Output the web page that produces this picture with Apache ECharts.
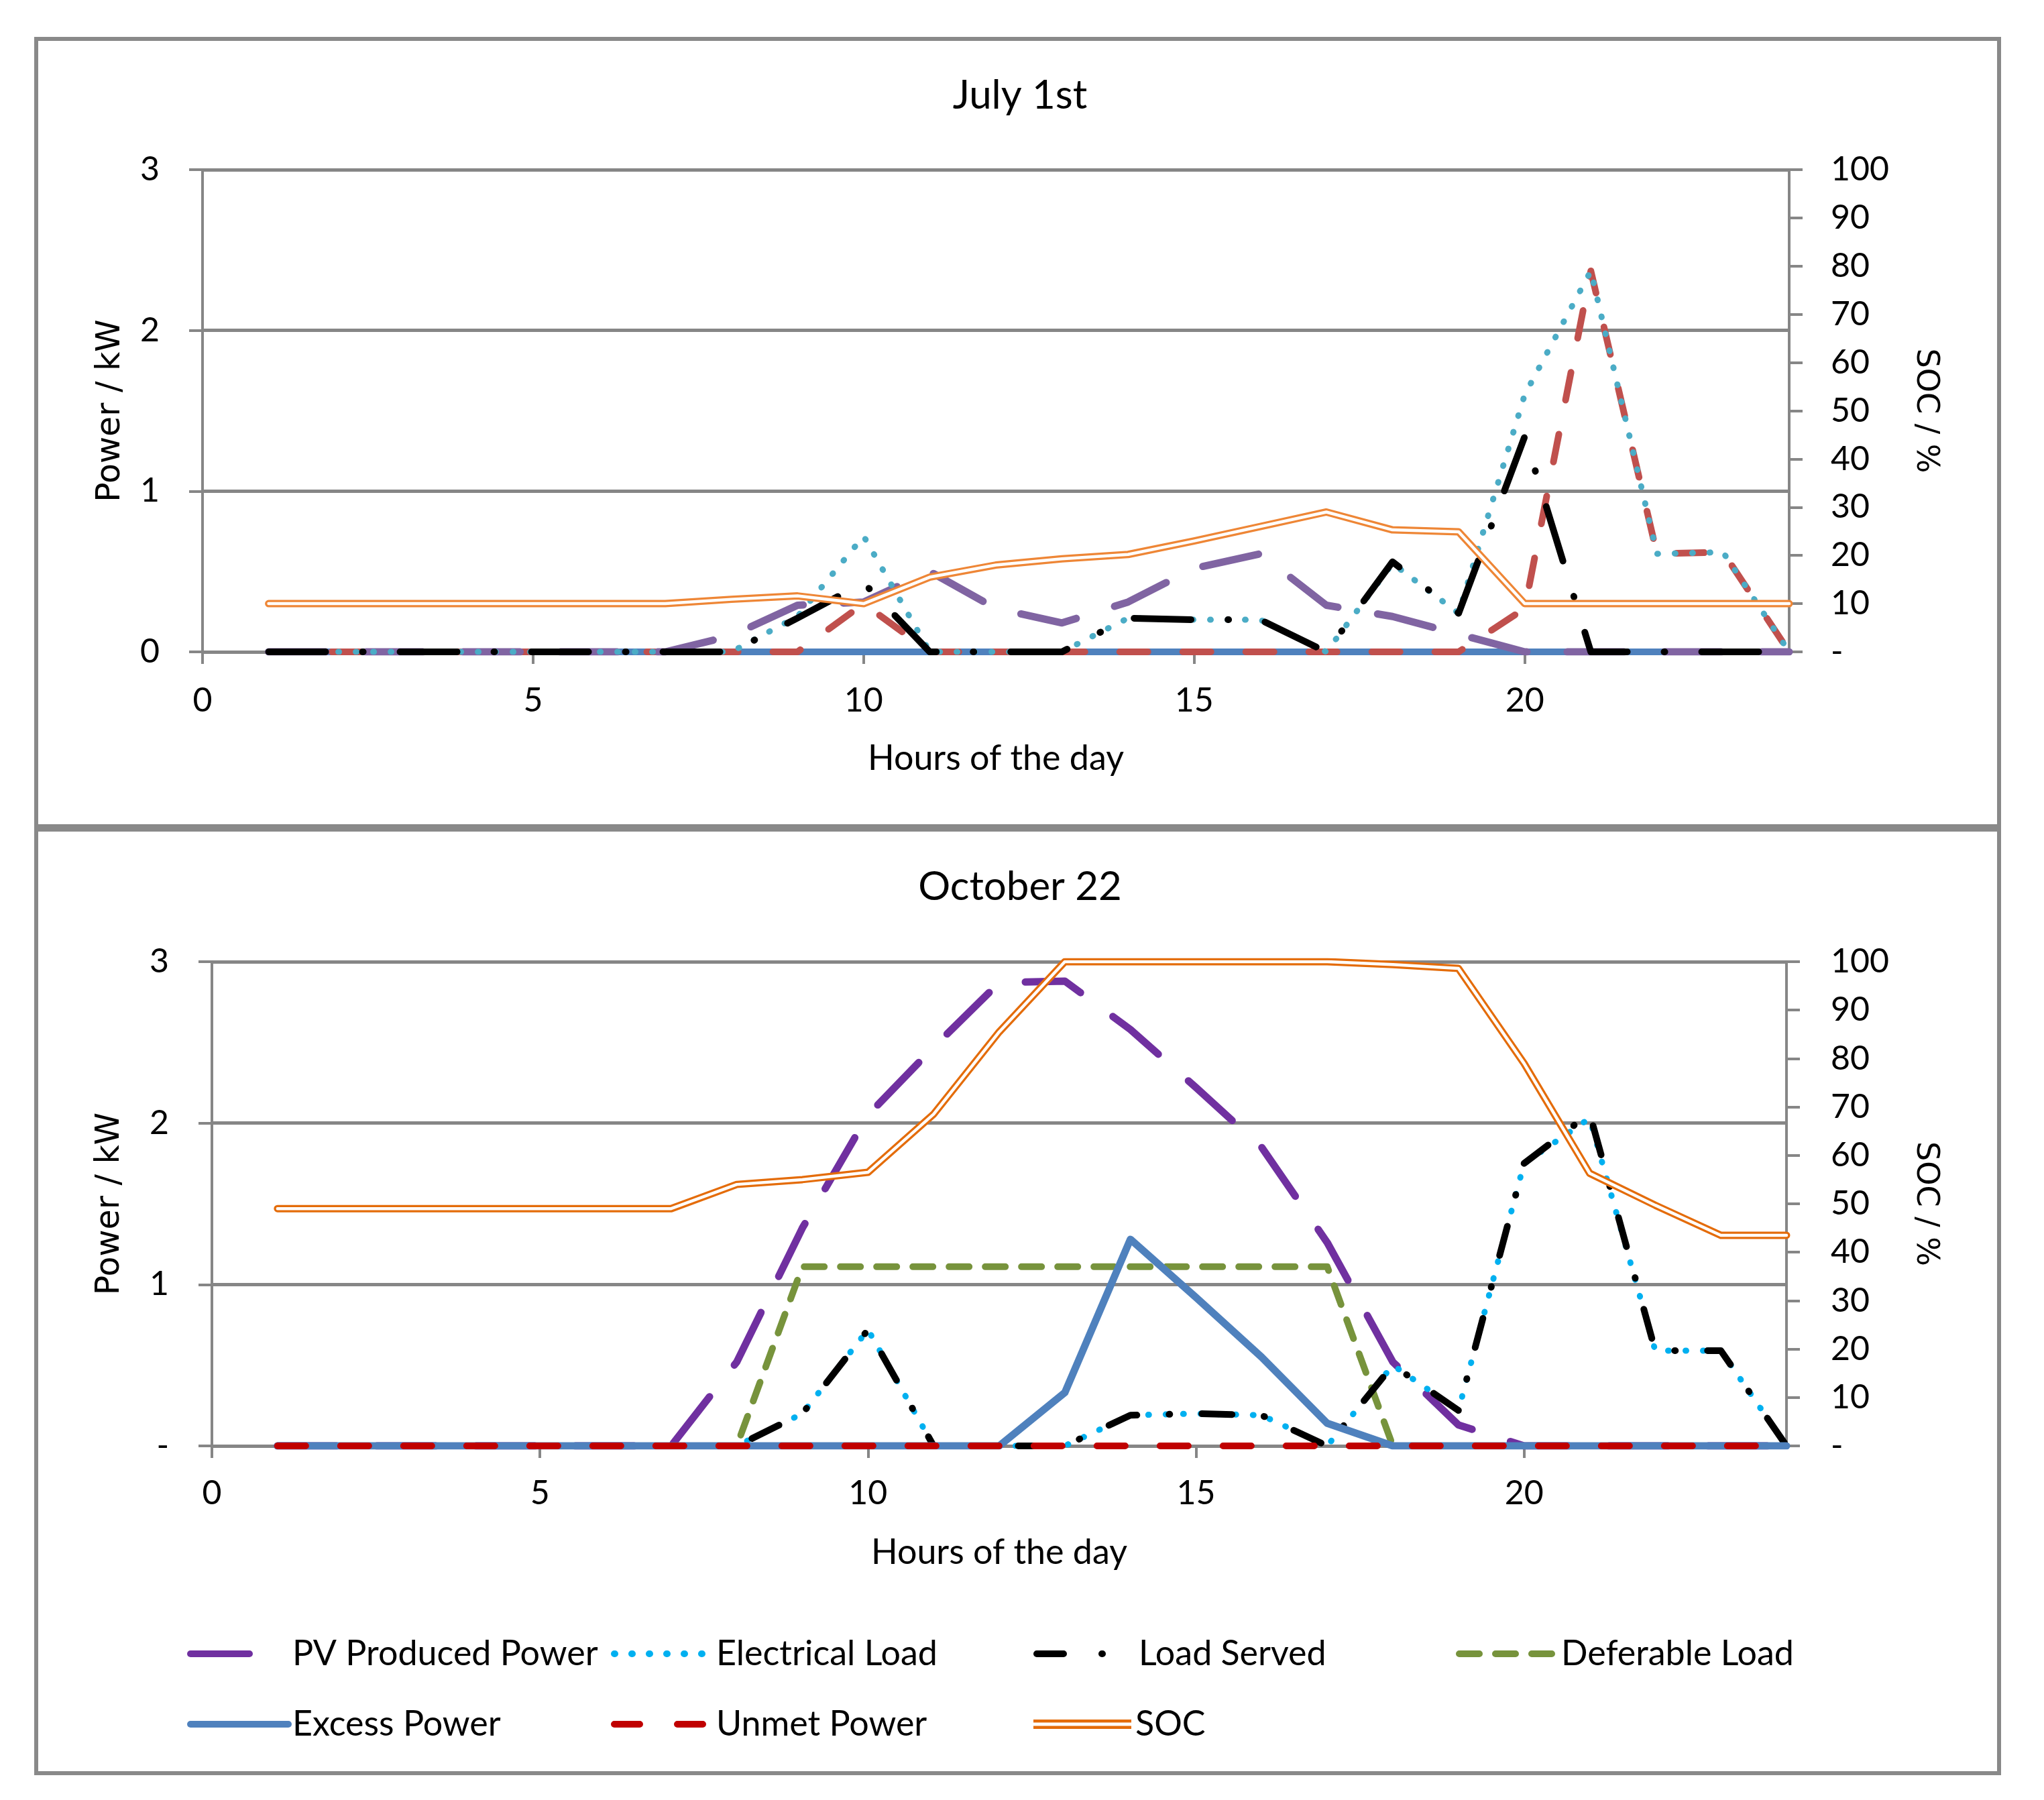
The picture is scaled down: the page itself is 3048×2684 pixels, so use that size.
<!DOCTYPE html>
<html>
<head>
<meta charset="utf-8">
<script src="https://cdn.jsdelivr.net/npm/echarts@6/dist/echarts.min.js"></script>
<style>
  html, body { margin: 0; padding: 0; background: #fff; }
  #chart { width: 3048px; height: 2684px; }
</style>
</head>
<body>
<div id="chart"></div>
<script>
// hours of the day (x values)
const hours = [1,2,3,4,5,6,7,8,9,10,11,12,13,14,15,16,17,18,19,20,21,22,23,24];
const xTicks = [0, 5, 10, 15, 20];

// July 1st
const pvJul     = [0,0,0,0,0,0,0,0.1,0.29,0.31,0.5,0.27,0.18,0.31,0.52,0.61,0.29,0.22,0.11,0,0,0,0,0];
const loadJul   = [0,0,0,0,0,0,0,0,0.22,0.72,0,0,0,0.21,0.2,0.2,0,0.55,0.24,1.6,2.37,0.61,0.62,0];
const servedJul = [0,0,0,0,0,0,0,0,0.21,0.43,0,0,0,0.21,0.2,0.2,0,0.56,0.24,1.34,0,0,0,0];
const deferJul  = [0,0,0,0,0,0,0,0,0,0,0,0,0,0,0,0,0,0,0,0,0,0,0,0];
const excessJul = [0,0,0,0,0,0,0,0,0,0,0,0,0,0,0,0,0,0,0,0,0,0,0,0];
const unmetJul  = [0,0,0,0,0,0,0,0,0,0.3,0,0,0,0,0,0,0,0,0,0.27,2.37,0.61,0.62,0];
const socJul    = [10,10,10,10,10,10,10,10.9,11.6,10,15.5,18,19.3,20.2,23,26,29,25.3,24.9,10,10,10,10,10];

// October 22
const pvOct     = [0,0,0,0,0,0,0,0.52,1.35,2.05,2.47,2.87,2.88,2.58,2.22,1.85,1.26,0.52,0.13,0,0,0,0,0];
const loadOct   = [0,0,0,0,0,0,0,0,0.2,0.72,0,0,0,0.19,0.2,0.19,0,0.5,0.22,1.75,2.03,0.59,0.59,0];
const servedOct = [0,0,0,0,0,0,0,0,0.2,0.72,0,0,0,0.19,0.2,0.19,0,0.5,0.22,1.75,2.06,0.59,0.59,0];
const deferOct  = [0,0,0,0,0,0,0,0,1.11,1.11,1.11,1.11,1.11,1.11,1.11,1.11,1.11,0,0,0,0,0,0,0];
const excessOct = [0,0,0,0,0,0,0,0,0,0,0,0,0.33,1.28,0.92,0.55,0.14,0,0,0,0,0,0,0];
const unmetOct  = [0,0,0,0,0,0,0,0,0,0,0,0,0,0,0,0,0,0,0,0,0,0,0,0];
const socOct    = [49,49,49,49,49,49,49,54,55,56.5,68.5,85.5,100,100,100,100,100,99.4,98.6,79,56.3,49.7,43.5,43.5];

const FONT = 'Lato';
const TITLE_FONT = 'DejaVu Sans';
const GRID_COLOR = '#868686';

function pairs(values) {
    return hours.map((h, i) => [h, values[i]]);
}

function line(name, values, g, yIdx, color, width, type) {
    return {
        name: name,
        type: 'line',
        xAxisIndex: g,
        yAxisIndex: yIdx,
        data: pairs(values),
        symbol: 'none',
        silent: true,
        lineStyle: {
            color: color,
            width: width,
            type: type || 'solid',
            cap: 'round',
            join: 'round'
        },
        itemStyle: { color: color }
    };
}

// bottom chart first so that the legend takes its colours from it
let series = [
    line('PV Produced Power', pvOct, 1, 2, '#7030A0', 11, [88, 60]),
    line('Deferable Load', deferOct, 1, 2, '#77933C', 10, [30, 24]),
    line('Electrical Load', loadOct, 1, 2, '#00B0F0', 9, [1, 25]),
    line('Load Served', servedOct, 1, 2, '#000000', 10, [45, 48, 1, 48]),
    line('Excess Power', excessOct, 1, 2, '#4F81BD', 11),
    line('Unmet Power', unmetOct, 1, 2, '#C00000', 10, [42, 52]),
    line('SOC', socOct, 1, 3, '#E46C0A', 11),
    line('SOC gap', socOct, 1, 3, '#ffffff', 4.5),

    line('Deferable Load', deferJul, 0, 0, '#9BBB59', 10, [30, 24]),
    line('Excess Power', excessJul, 0, 0, '#4F81BD', 10),
    line('Unmet Power', unmetJul, 0, 0, '#C0504D', 10, [42, 52]),
    line('PV Produced Power', pvJul, 0, 0, '#8064A2', 11, [85, 60]),
    line('Electrical Load', loadJul, 0, 0, '#4BACC6', 9, [1, 25]),
    line('Load Served', servedJul, 0, 0, '#000000', 10, [85, 55, 1, 55]),
    line('SOC', socJul, 0, 1, '#EE8636', 11),
    line('SOC gap', socJul, 0, 1, '#ffffff', 4.5)
];

function xAxis(g, margin, nameGap) {
    return {
        type: 'value', gridIndex: g, min: 0, max: 24, interval: 5,
        axisLine: { onZero: false, lineStyle: { color: GRID_COLOR, width: 5 } },
        axisTick: { show: true, length: 18, customValues: xTicks, lineStyle: { color: GRID_COLOR, width: 4 } },
        axisLabel: { customValues: xTicks, margin: margin, fontFamily: FONT, fontSize: 50, color: '#000' },
        splitLine: { show: false },
        name: 'Hours of the day', nameLocation: 'middle', nameGap: nameGap,
        nameTextStyle: { fontFamily: FONT, fontSize: 52, color: '#000' }
    };
}

function leftAxis(g, zeroDash, nameGap) {
    return {
        type: 'value', gridIndex: g, position: 'left', min: 0, max: 3, interval: 1,
        axisLine: { show: true, onZero: false, lineStyle: { color: GRID_COLOR, width: 4 } },
        axisTick: { show: true, length: 20, lineStyle: { color: GRID_COLOR, width: 4 } },
        splitLine: { show: true, lineStyle: { color: GRID_COLOR, width: 5 } },
        axisLabel: {
            margin: 64, fontFamily: FONT, fontSize: 50, color: '#000',
            formatter: v => (v === 0 && zeroDash) ? '-' : String(v)
        },
        name: 'Power / kW', nameLocation: 'middle', nameGap: nameGap, nameRotate: 90,
        nameTextStyle: { fontFamily: TITLE_FONT, fontSize: 49, color: '#000' }
    };
}

function rightAxis(g, margin, nameGap) {
    return {
        type: 'value', gridIndex: g, position: 'right', min: 0, max: 100, interval: 10,
        axisLine: { show: true, onZero: false, lineStyle: { color: GRID_COLOR, width: 4 } },
        axisTick: { show: true, length: 20, lineStyle: { color: GRID_COLOR, width: 4 } },
        splitLine: { show: false },
        axisLabel: {
            margin: margin, fontFamily: FONT, fontSize: 50, color: '#000',
            formatter: v => v === 0 ? '-' : String(v)
        },
        name: 'SOC / %', nameLocation: 'middle', nameGap: nameGap, nameRotate: -90,
        nameTextStyle: { fontFamily: TITLE_FONT, fontSize: 46, color: '#000' }
    };
}

// one legend per entry so the columns line up like the original
const legendCols = [279, 911, 1541, 2171];
const legendRows = [2440, 2545];
const legendItems = [
    ['PV Produced Power', 0, 0, [88, 300]],
    ['Electrical Load', 1, 0, [1, 25]],
    ['Load Served', 2, 0, [40, 57, 1, 300]],
    ['Deferable Load', 3, 0, [30, 24]],
    ['Excess Power', 0, 1, 'solid'],
    ['Unmet Power', 1, 1, [38, 56]],
    ['SOC', 2, 1, 'solid']
];
const legends = legendItems.map(([name, c, r, dash]) => {
    // transparent item colour hides the little circle ECharts puts in the middle of a line icon
    let item = {
        name: name,
        lineStyle: { type: dash, width: 10, cap: 'round' },
        itemStyle: { color: 'rgba(0,0,0,0)', borderWidth: 0 }
    };
    let lg = {
        left: legendCols[c], top: legendRows[r], padding: 0,
        itemWidth: 146, itemHeight: 14, selectedMode: false,
        lineStyle: { width: 10 },
        textStyle: { fontFamily: FONT, fontSize: 52, color: '#000', padding: [0, 0, 0, 1] },
        data: [item]
    };
    if (name === 'SOC') {
        item.icon = 'path://M0,0H146V14H0Z M0,4.5V9.5H146V4.5Z';
        item.itemStyle = { color: '#E46C0A' };
        lg.symbolKeepAspect = false;
    }
    return lg;
});

const titleStyle = { fontFamily: FONT, fontSize: 60, fontWeight: 'normal', color: '#000' };

const chart = echarts.init(document.getElementById('chart'), null, { renderer: 'canvas' });
chart.setOption({
    animation: false,
    backgroundColor: '#ffffff',
    title: [
        { text: 'July 1st', left: 1516, textAlign: 'center', top: 108, textStyle: titleStyle },
        { text: 'October 22', left: 1516, textAlign: 'center', top: 1288, textStyle: titleStyle }
    ],
    grid: [
        { left: 302, top: 253, width: 2366, height: 719 },
        { left: 316, top: 1434, width: 2348, height: 722 }
    ],
    xAxis: [xAxis(0, 48, 133), xAxis(1, 46, 133)],
    yAxis: [leftAxis(0, false, 112), rightAxis(0, 62, 180), leftAxis(1, true, 127), rightAxis(1, 66, 184)],
    legend: legends,
    graphic: [
        { type: 'rect', shape: { x: 54, y: 58, width: 2927, height: 1174 }, style: { fill: 'none', stroke: '#898989', lineWidth: 6 } },
        { type: 'rect', shape: { x: 54, y: 1237, width: 2927, height: 1407 }, style: { fill: 'none', stroke: '#898989', lineWidth: 6 } }
    ],
    series: series
});
</script>
</body>
</html>
